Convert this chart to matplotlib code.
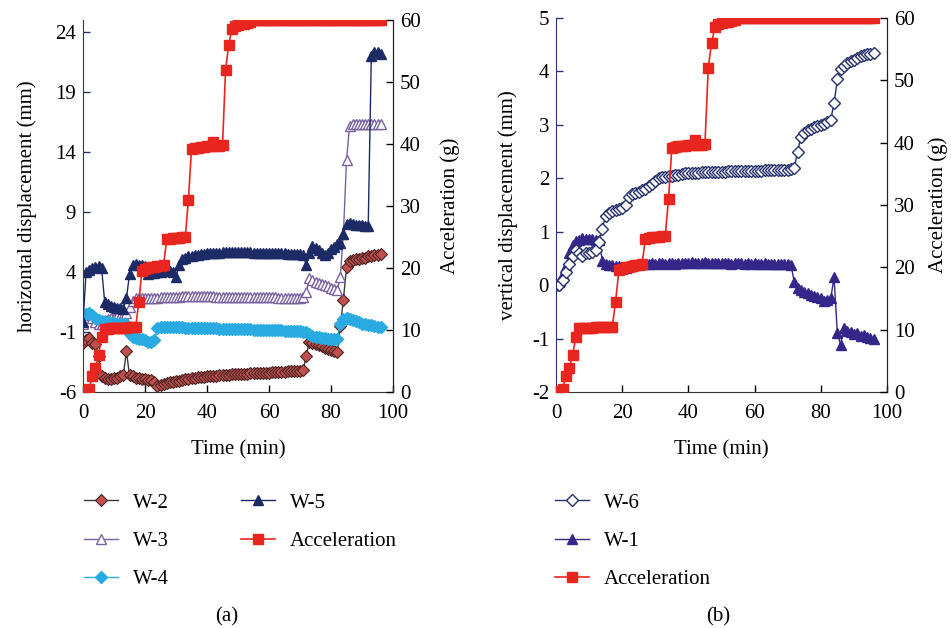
import matplotlib
matplotlib.use("Agg")
import matplotlib.pyplot as plt

# sampling times (min), one reading per minute
minutes = list(range(97))

acceleration = [
    0, 0.2, 0.5, 2.5, 3.8, 5.9, 8.9, 10.2, 10.2, 10.3,
    10.3, 10.3, 10.4, 10.4, 10.4, 10.5, 10.5, 10.5, 14.5, 19.5,
    19.8, 20.0, 20.1, 20.2, 20.3, 20.4, 20.5, 24.6, 24.7, 24.8,
    24.8, 24.9, 25.0, 25.0, 31.0, 39.2, 39.3, 39.4, 39.5, 39.5,
    39.6, 39.6, 40.4, 39.7, 39.7, 39.8, 52.0, 56.0, 58.5, 59.0,
    59.2, 59.3, 59.4, 59.5, 59.6, 60, 60, 60, 60, 60,
    60, 60, 60, 60, 60, 60, 60, 60, 60, 60,
    60, 60, 60, 60, 60, 60, 60, 60, 60, 60,
    60, 60, 60, 60, 60, 60, 60, 60, 60, 60,
    60, 60, 60, 60, 60, 60, 60,
]

# horizontal displacement (mm), panel (a)
w2 = [
    -1.9, -1.7, -1.5, -1.9, -2.0, -3.0, -4.7, -4.8, -4.9, -4.9,
    -4.8, -4.8, -4.7, -4.6, -2.6, -4.6, -4.7, -4.8, -4.8, -4.9,
    -4.9, -5.0, -5.0, -5.2, -5.5, -5.4, -5.3, -5.25, -5.2, -5.15,
    -5.1, -5.05, -5.0, -4.95, -4.9, -4.85, -4.8, -4.78, -4.75, -4.72,
    -4.7, -4.68, -4.65, -4.63, -4.6, -4.58, -4.56, -4.55, -4.53, -4.52,
    -4.5, -4.49, -4.48, -4.46, -4.45, -4.44, -4.43, -4.42, -4.4, -4.39,
    -4.38, -4.36, -4.35, -4.33, -4.32, -4.3, -4.29, -4.28, -4.26, -4.25,
    -4.22, -4.2, -3.0, -1.8, -1.9, -2.0, -2.1, -2.2, -2.3, -2.4,
    -2.5, -2.6, -2.7, -0.5, 1.7, 4.4, 4.9, 5.0, 5.1, 5.1,
    5.2, 5.2, 5.3, 5.3, 5.4, 5.4, 5.5,
]
w3 = [
    -0.3, 0.4, 0.6, 0.2, -0.2, -0.3, -0.3, 0.0, 0.1, 0.2,
    0.2, 0.3, 0.3, 0.4, 0.6, 1.1, 1.6, 1.8, 1.8, 1.85,
    1.85, 1.85, 1.85, 1.85, 1.85, 1.9, 1.9, 1.9, 1.9, 1.95,
    1.95, 1.95, 2.0, 2.0, 2.0, 2.0, 2.0, 2.0, 2.0, 2.0,
    2.0, 2.0, 2.0, 1.95, 1.95, 1.95, 1.95, 1.95, 1.95, 1.95,
    1.95, 1.9, 1.9, 1.9, 1.9, 1.9, 1.9, 1.9, 1.9, 1.9,
    1.9, 1.9, 1.9, 1.85, 1.85, 1.85, 1.85, 1.85, 1.85, 1.85,
    1.85, 1.9, 2.3, 3.5, 3.3, 3.2, 3.1, 3.0, 2.9, 2.8,
    2.7, 2.6, 2.5, 3.6, 7.2, 13.3, 16.2, 16.3, 16.3, 16.3,
    16.3, 16.3, 16.3, 16.3, 16.3, 16.3, 16.3,
]
w4 = [
    0.3, 0.5, 0.6, 0.4, 0.2, 0.0, -0.1, -0.2, -0.2, -0.25,
    -0.25, -0.3, -0.3, -0.3, -0.35, -1.2, -1.4, -1.5, -1.6, -1.6,
    -1.7, -1.8, -1.8, -1.7, -0.7, -0.6, -0.55, -0.55, -0.6, -0.6,
    -0.6, -0.62, -0.62, -0.64, -0.64, -0.65, -0.65, -0.66, -0.66, -0.68,
    -0.68, -0.7, -0.7, -0.7, -0.72, -0.72, -0.72, -0.74, -0.74, -0.75,
    -0.75, -0.76, -0.76, -0.78, -0.78, -0.8, -0.8, -0.8, -0.82, -0.82,
    -0.84, -0.84, -0.85, -0.86, -0.87, -0.88, -0.9, -0.9, -0.92, -0.93,
    -0.95, -0.97, -1.0, -1.2, -1.3, -1.4, -1.45, -1.5, -1.5, -1.55,
    -1.6, -1.6, -1.6, -0.3, 0.1, 0.2, 0.1, 0.0, -0.1, -0.2,
    -0.3, -0.35, -0.4, -0.45, -0.5, -0.55, -0.6,
]
w5 = [
    -0.2, 4.0, 4.2, 4.3, 4.4, 4.5, 4.3, 1.5, 1.3, 1.2,
    1.1, 1.0, 1.0, 0.9, 1.8, 3.8, 4.6, 4.7, 4.6, 4.6,
    4.5, 3.8, 3.9, 3.9, 4.0, 4.0, 4.1, 4.2, 4.1, 4.0,
    3.6, 4.6, 5.1, 5.2, 5.3, 5.35, 5.4, 5.45, 5.5, 5.5,
    5.55, 5.55, 5.6, 5.6, 5.6, 5.65, 5.65, 5.7, 5.7, 5.7,
    5.7, 5.65, 5.65, 5.65, 5.65, 5.6, 5.6, 5.6, 5.6, 5.6,
    5.6, 5.55, 5.55, 5.55, 5.55, 5.55, 5.5, 5.5, 5.5, 5.5,
    5.5, 5.45, 4.6, 5.6, 6.2, 6.0, 5.8, 5.6, 5.4, 5.6,
    5.9, 6.1, 6.3, 6.4, 7.2, 8.0, 8.1, 8.0, 7.9, 7.9,
    7.9, 7.8, 7.8, 22.0, 22.3, 22.3, 22.2,
]

# vertical displacement (mm), panel (b)
w6 = [
    0.0, 0.0, 0.1, 0.25, 0.4, 0.55, 0.65, 0.6, 0.55, 0.6,
    0.6, 0.62, 0.65, 0.8, 1.05, 1.3, 1.35, 1.38, 1.4, 1.42,
    1.45, 1.5, 1.65, 1.7, 1.72, 1.75, 1.78, 1.8, 1.85, 1.9,
    1.95, 2.0, 2.02, 2.03, 2.04, 2.05, 2.06, 2.07, 2.08, 2.09,
    2.09, 2.1, 2.1, 2.1, 2.11, 2.11, 2.11, 2.12, 2.12, 2.12,
    2.12, 2.12, 2.13, 2.13, 2.13, 2.13, 2.13, 2.14, 2.14, 2.14,
    2.14, 2.14, 2.14, 2.15, 2.15, 2.15, 2.15, 2.15, 2.15, 2.16,
    2.16, 2.17, 2.2, 2.5, 2.78, 2.85, 2.9, 2.93, 2.96, 2.98,
    3.0, 3.02, 3.05, 3.1, 3.4, 3.85, 4.05, 4.1, 4.15, 4.2,
    4.22, 4.25, 4.28, 4.3, 4.32, 4.33, 4.35,
]
w1 = [
    0.0, 0.05, 0.2, 0.35, 0.6, 0.75, 0.82, 0.85, 0.88, 0.87,
    0.86, 0.86, 0.85, 0.85, 0.45, 0.4, 0.38, 0.37, 0.36, 0.35,
    0.33, 0.32, 0.35, 0.36, 0.38, 0.39, 0.4, 0.4, 0.39, 0.41,
    0.4, 0.42, 0.41, 0.4, 0.42, 0.41, 0.4, 0.42, 0.42, 0.41,
    0.42, 0.43, 0.42, 0.41, 0.42, 0.43, 0.42, 0.42, 0.41, 0.42,
    0.41, 0.42, 0.41, 0.4, 0.41, 0.42, 0.41, 0.4, 0.41, 0.4,
    0.41, 0.4, 0.4, 0.41, 0.4, 0.39, 0.4, 0.4, 0.39, 0.4,
    0.39, 0.38, 0.05, -0.05, -0.1, -0.12, -0.15, -0.18, -0.2, -0.22,
    -0.25, -0.3, -0.28, -0.25, 0.15, -0.9, -1.12, -0.8, -0.85, -0.88,
    -0.92, -0.9, -0.95, -0.93, -0.97, -0.98, -1.0,
]

x_ticks = [0, 20, 40, 60, 80, 100]
h_ticks = [-6, -1, 4, 9, 14, 19, 24]
v_ticks = [-2, -1, 0, 1, 2, 3, 4, 5]
acc_ticks = [0, 10, 20, 30, 40, 50, 60]

ACC_COLOR = '#e8251f'
SPINE_LEFT = '#2b3473'
FONT = 'Liberation Serif'
FS = 15

plt.rcParams['font.family'] = [FONT, 'DejaVu Serif']
plt.rcParams['font.size'] = FS
plt.rcParams['axes.unicode_minus'] = False


def style_axes(ax, ax2, acc_pad):
    for a in (ax, ax2):
        a.spines['top'].set_visible(False)
        a.tick_params(direction='in', length=5, width=1, labelsize=FS, pad=5)
    ax.tick_params(axis='x', pad=9)
    ax.spines['left'].set_color(SPINE_LEFT)
    ax.spines['bottom'].set_color('#333333')
    ax2.spines['right'].set_color('#222222')
    ax2.spines['left'].set_visible(False)
    ax2.spines['bottom'].set_visible(False)
    ax.tick_params(axis='y', color=SPINE_LEFT)
    ax.set_xlim(0, 100)
    ax.set_xticks(x_ticks)
    ax.set_xlabel('Time (min)', fontsize=FS, labelpad=12)
    ax2.set_ylim(0, 60)
    ax2.set_yticks(acc_ticks)
    ax2.set_ylabel('Acceleration (g)', fontsize=FS, labelpad=acc_pad)


def main():
    fig = plt.figure(figsize=(9.51, 6.28), dpi=100)
    ax_a = fig.add_axes([83 / 951, 1 - 392 / 628, 310 / 951, 372 / 628])
    ax_b = fig.add_axes([556 / 951, 1 - 392 / 628, 331 / 951, 374 / 628])
    acc_a = ax_a.twinx()
    acc_b = ax_b.twinx()

    # panel (a)
    l_w2, = ax_a.plot(minutes, w2, color='#3a3a3a', lw=1, marker='D', ms=6.5,
                      mfc='#c0504d', mec='#4a2222', mew=0.8)
    l_w3, = ax_a.plot(minutes, w3, color='#7a62a0', lw=1, marker='^', ms=7.5,
                      mfc='white', mec='#7a62a0', mew=1)
    l_w4, = ax_a.plot(minutes, w4, color='#29abe2', lw=1, marker='D', ms=6.5,
                      mfc='#29abe2', mec='#29abe2')
    l_w5, = ax_a.plot(minutes, w5, color='#1c2a66', lw=1, marker='^', ms=7.5,
                      mfc='#1c2a66', mec='#1c2a66')
    l_acc_a, = acc_a.plot(minutes, acceleration, color=ACC_COLOR, lw=1.2,
                          marker='s', ms=6.5, mfc=ACC_COLOR, mec=ACC_COLOR)
    ax_a.set_ylim(-6, 25)
    ax_a.set_yticks(h_ticks)
    ax_a.set_ylabel('horizontal displacement (mm)', fontsize=FS, labelpad=13)
    style_axes(ax_a, acc_a, 14)

    # panel (b)
    l_w1, = ax_b.plot(minutes, w1, color='#35278a', lw=1, marker='^', ms=7.5,
                      mfc='#35278a', mec='#35278a')
    l_w6, = ax_b.plot(minutes, w6, color='#26306e', lw=1, marker='D', ms=6.5,
                      mfc='white', mec='#26306e', mew=1)
    l_acc_b, = acc_b.plot(minutes, acceleration, color=ACC_COLOR, lw=1.2,
                          marker='s', ms=6.5, mfc=ACC_COLOR, mec=ACC_COLOR)
    ax_b.set_ylim(-2, 5)
    ax_b.set_yticks(v_ticks)
    ax_b.set_ylabel('vertical displacement (mm)', fontsize=FS, labelpad=10)
    style_axes(ax_b, acc_b, 10)

    leg_kw = dict(loc='upper left', frameon=False, fontsize=FS, borderpad=0,
                  borderaxespad=0, handlelength=1.65, handletextpad=0.7,
                  labelspacing=0.9)
    fig.legend([l_w2, l_w3, l_w4, l_w5, l_acc_a],
               ['W-2', 'W-3', 'W-4', 'W-5', 'Acceleration'],
               ncol=2, columnspacing=3.45,
               bbox_to_anchor=(84 / 951, 1 - 493 / 628), **leg_kw)
    fig.legend([l_w6, l_w1, l_acc_b], ['W-6', 'W-1', 'Acceleration'],
               bbox_to_anchor=(555 / 951, 1 - 493 / 628), **leg_kw)

    fig.text(227 / 951, 1 - 617 / 628, '(a)', ha='center', va='center', fontsize=FS)
    fig.text(718 / 951, 1 - 617 / 628, '(b)', ha='center', va='center', fontsize=FS)

    fig.savefig('out.png', dpi=100)


if __name__ == "__main__":
    main()
